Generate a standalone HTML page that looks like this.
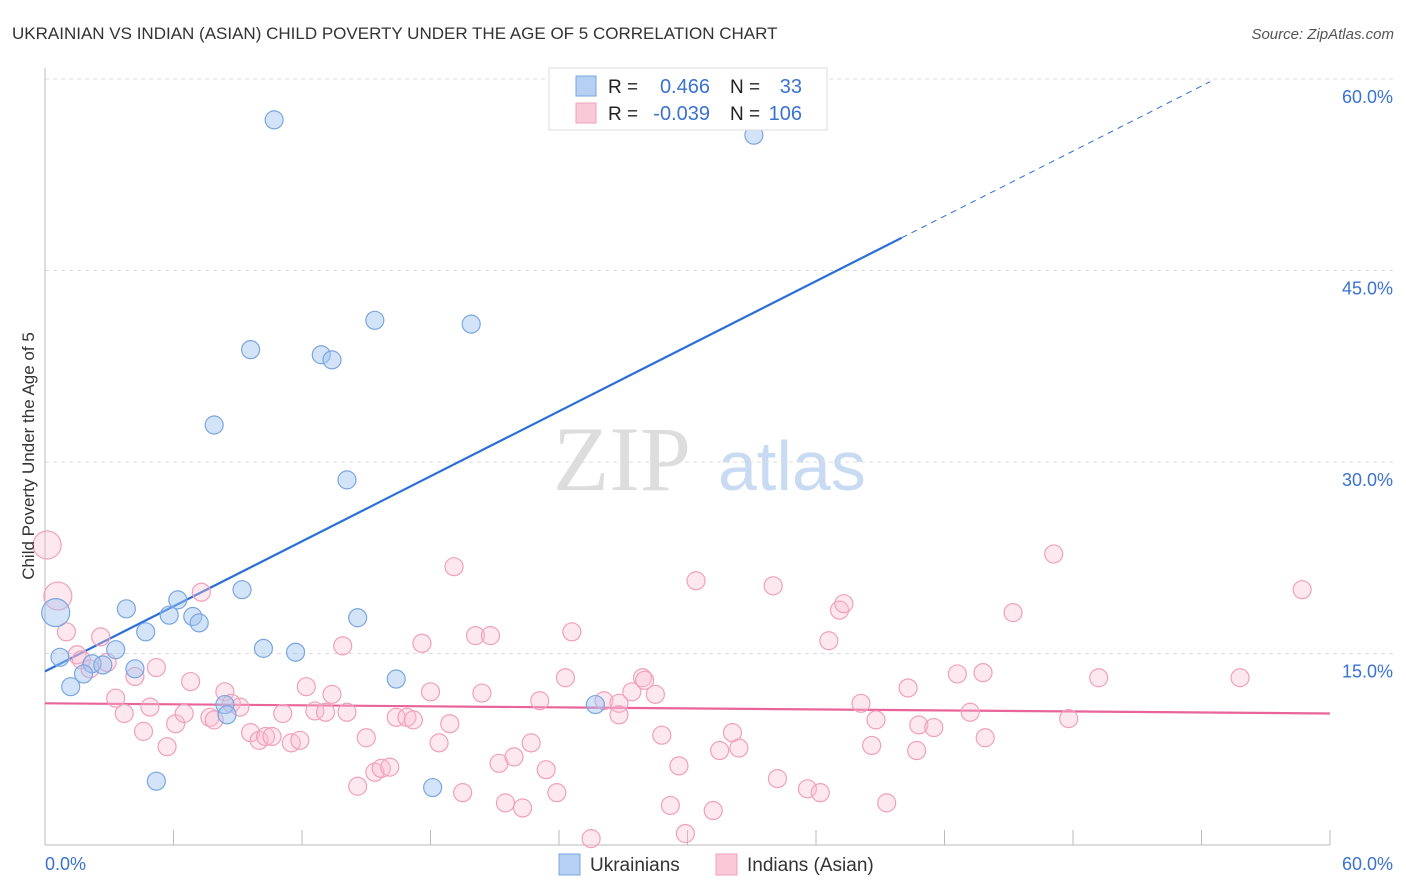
<!DOCTYPE html>
<html><head><meta charset="utf-8"><style>
body{margin:0;background:#fff;font-family:"Liberation Sans",sans-serif;}
svg{display:block}
</style></head><body>
<svg id="chart" width="1406" height="892" xmlns="http://www.w3.org/2000/svg">
<text x="12" y="39" font-size="17" fill="#333">UKRAINIAN VS INDIAN (ASIAN) CHILD POVERTY UNDER THE AGE OF 5 CORRELATION CHART</text>
<text x="1394" y="39" font-size="15" fill="#555" text-anchor="end" font-style="italic">Source: ZipAtlas.com</text>
<g><text x="553" y="490" font-size="92" fill="#ddd" font-family="Liberation Serif,serif">ZIP</text><text x="718" y="490" font-size="70" fill="#c9dbf3">atlas</text></g>
<g id="grid"></g>
<g id="axes"></g>
<g id="lines"></g>
<g id="pts"></g>
<text transform="translate(34,456) rotate(-90)" font-size="17" fill="#333" text-anchor="middle">Child Poverty Under the Age of 5</text>
<g>
<rect x="549" y="68" width="278" height="62" fill="#fff" stroke="#ddd"/>
<rect x="576" y="76" width="20" height="20" fill="#b5d0f3" stroke="#7aa6e0"/>
<rect x="576" y="103" width="20" height="20" fill="#f9c9d8" stroke="#f0a0bc"/>
<text x="608" y="93" font-size="19" fill="#222">R =</text><text x="710" y="93" font-size="20" fill="#3a72d0" text-anchor="end">0.466</text>
<text x="730" y="93" font-size="19" fill="#222">N =</text><text x="802" y="93" font-size="20" fill="#3a72d0" text-anchor="end">33</text>
<text x="608" y="120" font-size="19" fill="#222">R =</text><text x="710" y="120" font-size="20" fill="#3a72d0" text-anchor="end">-0.039</text>
<text x="730" y="120" font-size="19" fill="#222">N =</text><text x="802" y="120" font-size="20" fill="#3a72d0" text-anchor="end">106</text>
</g>
<g>
<rect x="559" y="854" width="21" height="21" fill="#b5d0f3" stroke="#7aa6e0"/><text x="590" y="871" font-size="19" fill="#333">Ukrainians</text>
<rect x="716" y="854" width="21" height="21" fill="#f9c9d8" stroke="#f0a0bc"/><text x="747" y="871" font-size="19" fill="#333">Indians (Asian)</text>
</g>
</svg>
<script>
const blueX=[10.7,33.1,15.4,19.9,9.6,12.9,13.4,7.9,14.1,9.2,6.2,3.8,5.8,6.9,7.2,14.6,4.7,0.5,3.3,10.2,11.7,0.7,2.2,2.7,4.2,1.8,1.2,16.4,8.4,8.5,25.7,5.2,18.1];
const blueY=[56.8,55.6,41.1,40.8,38.8,38.4,38.0,32.9,28.6,20.0,19.2,18.5,18.0,17.9,17.4,17.8,16.7,18.2,15.3,15.4,15.1,14.7,14.2,14.1,13.8,13.4,12.4,13.0,11.0,10.2,11.0,5.0,4.5];
const pinkX=[0.1,0.6,1.0,2.6,1.5,1.7,2.9,2.1,4.2,5.2,3.3,3.7,4.9,4.6,5.7,6.1,6.5,6.8,7.3,7.7,7.9,8.4,8.7,9.1,9.6,10.0,10.3,10.6,11.1,11.5,11.9,12.2,12.6,13.1,13.4,14.1,13.9,14.6,15.0,15.4,15.7,16.1,16.4,16.9,17.2,17.6,18.0,18.4,18.9,19.1,19.5,20.1,20.4,20.8,21.2,21.5,21.9,22.3,22.7,23.1,23.4,23.9,24.3,24.6,25.5,26.1,26.8,26.8,27.4,27.9,28.0,28.5,28.8,29.6,29.2,29.9,30.4,31.2,31.5,32.1,32.4,34.0,34.2,35.6,36.2,36.6,37.1,37.3,38.1,38.8,38.6,39.3,40.3,40.7,40.8,41.5,42.6,43.2,43.8,43.9,45.2,47.1,47.8,49.2,55.8,58.7];
const pinkY=[23.5,19.5,16.7,16.3,14.9,14.5,14.3,13.8,13.2,13.9,11.5,10.3,10.8,8.9,7.7,9.5,10.3,12.8,19.8,10.0,9.8,12.0,11.1,10.8,8.8,8.2,8.5,8.5,10.3,8.0,8.2,12.4,10.5,10.4,11.8,10.4,15.6,4.6,8.4,5.7,6.0,6.1,10.0,10.0,9.8,15.8,12.0,8.0,9.5,21.8,4.1,16.4,11.9,16.4,6.4,3.3,6.9,2.9,8.0,11.3,5.9,4.1,13.1,16.7,0.5,11.3,11.1,10.2,12.0,13.1,12.9,11.8,8.6,6.2,3.1,0.9,20.7,2.7,7.4,8.8,7.6,20.3,5.2,4.4,4.1,16.0,18.4,18.9,11.1,9.8,7.8,3.3,12.3,7.4,9.4,9.2,13.4,10.4,13.5,8.4,18.2,22.8,9.9,13.1,13.1,20.0];
const yTicks=[15,30,45,60];
const yTickLabels=["15.0%","30.0%","45.0%","60.0%"];
const blueLine=[13.6,0.849]; // intercept, slope
const pinkLine=[11.1,-0.0133];
const NS="http://www.w3.org/2000/svg";
const X=v=>45+v*1285/60, Y=v=>845-v*766/60;
function mk(p,t,a){const e=document.createElementNS(NS,t);for(const k in a)e.setAttribute(k,a[k]);document.getElementById(p).appendChild(e);return e;}
yTicks.forEach((t,i)=>{
 const g=mk('grid','line',{x1:45,x2:1394,y1:Y(t),y2:Y(t),stroke:'#ddd','stroke-dasharray':'4,4'});
 
 
 const l=mk('grid','text',{x:1393,y:Y(t)+24,'font-size':18,fill:'#3a72d0','text-anchor':'end'});
 l.textContent=yTickLabels[i];
 
 
});
let a=mk('axes','line',{x1:45,x2:45,y1:68,y2:845,stroke:'#bbb'});


a=mk('axes','line',{x1:45,x2:1330,y1:845,y2:845,stroke:'#bbb'});


for(let i=0;i<=10;i++){const t=mk('axes','line',{x1:X(i*6),x2:X(i*6),y1:830,y2:845,stroke:'#bbb'});
 
 }
let xl=mk('axes','text',{x:45,y:870,'font-size':18,fill:'#3a72d0'});xl.textContent='0.0%';


xl=mk('axes','text',{x:1393,y:870,'font-size':18,fill:'#3a72d0','text-anchor':'end'});xl.textContent='60.0%';


let ln=mk('lines','line',{x1:X(0),y1:Y(blueLine[0]),x2:X(40),y2:Y(blueLine[0]+40*blueLine[1]),stroke:'#2a6fd6','stroke-width':2.2});


ln=mk('lines','line',{x1:X(40),y1:Y(blueLine[0]+40*blueLine[1]),x2:X(54.4),y2:Y(blueLine[0]+54.4*blueLine[1]),stroke:'#2a6fd6','stroke-width':1,'stroke-dasharray':'6,5'});


ln=mk('lines','line',{x1:X(0),y1:Y(pinkLine[0]),x2:X(60),y2:Y(pinkLine[0]+60*pinkLine[1]),stroke:'#e8649a','stroke-width':2.2});


pinkX.forEach((x,i)=>{const c=mk('pts','circle',{cx:X(x),cy:Y(pinkY[i]),r:x<0.7?14:9,fill:'rgba(248,190,210,0.35)',stroke:'#f0a0bc','stroke-width':1.2});
 
 });
blueX.forEach((x,i)=>{const c=mk('pts','circle',{cx:X(x),cy:Y(blueY[i]),r:x<0.6?14:9,fill:'rgba(160,195,240,0.45)',stroke:'#7aa6e0','stroke-width':1.2});
 
 });
</script>
</body></html>
